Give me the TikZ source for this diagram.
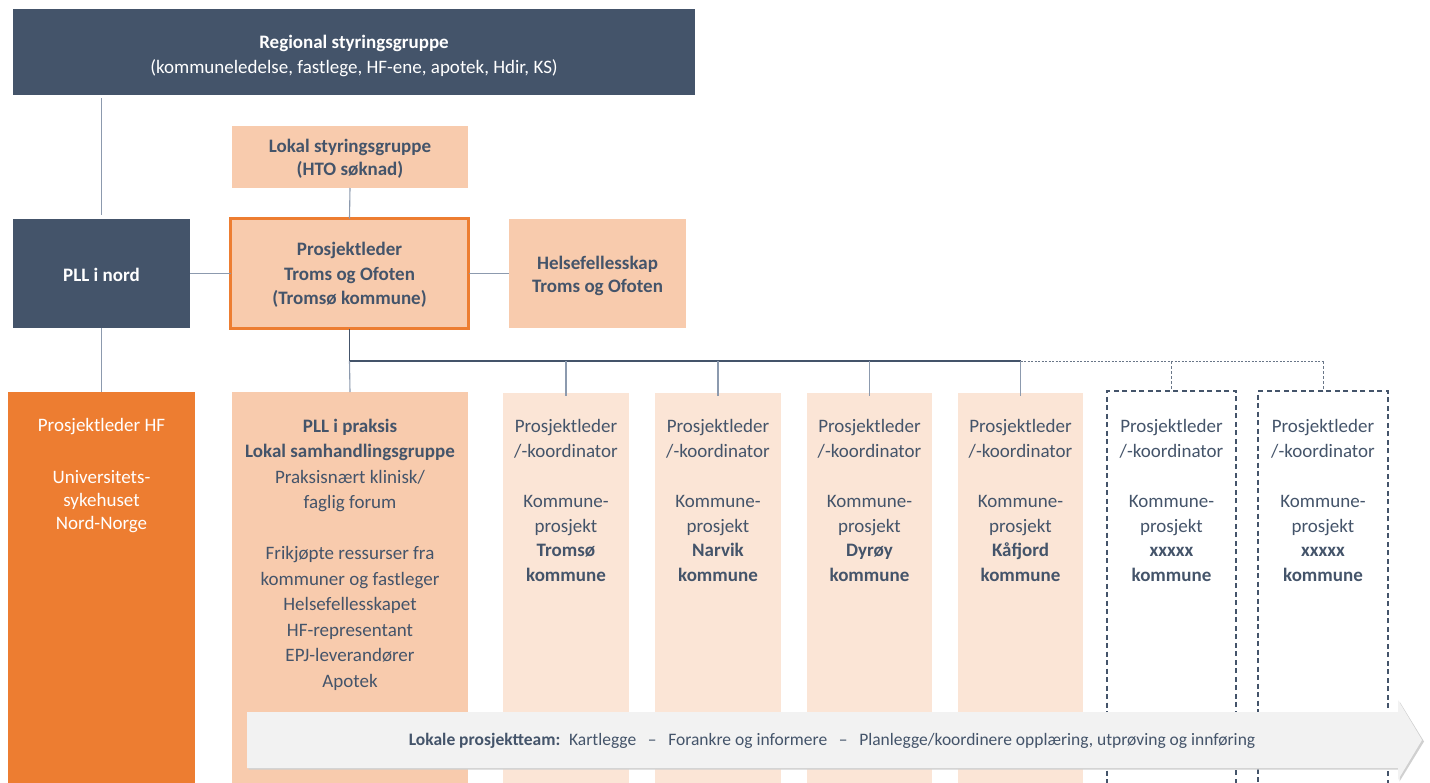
\documentclass[tikz,border=0pt]{standalone}
\usepackage{fontspec}
\setmainfont{Carlito}
\definecolor{slate}{HTML}{44546A}
\definecolor{peach}{HTML}{F8CBAD}
\definecolor{lpeach}{HTML}{FBE5D6}
\definecolor{orng}{HTML}{ED7D31}
\definecolor{conn}{HTML}{8C9AAE}
\definecolor{arrowfill}{HTML}{F2F2F2}
\definecolor{arrowshade}{HTML}{D0D0D0}
\tikzset{
  boxbase/.style={rectangle, inner sep=0pt, outer sep=0pt},
  darkbox/.style={boxbase, fill=slate},
  peachbox/.style={boxbase, fill=peach},
  lpeachbox/.style={boxbase, fill=lpeach},
  orangebox/.style={boxbase, fill=orng},
  dashbox/.style={boxbase, draw=slate, line width=1.4pt, dash pattern=on 5pt off 3.5pt},
  conline/.style={draw=conn, line width=1.1pt},
  busline/.style={draw=slate, line width=1.2pt},
  dotline/.style={draw=slate!80, line width=0.9pt, dash pattern=on 2pt off 1.5pt},
  dropdash/.style={draw=slate!80, line width=0.9pt, dash pattern=on 3pt off 2pt},
  txt/.style={inner sep=0pt, align=center, text=slate, font=\fontsize{19}{24.5}\selectfont},
  wtxt/.style={txt, text=white},
}
\begin{document}
\begin{tikzpicture}[x=1pt,y=-1pt]
\useasboundingbox (0,0) rectangle (1430,782);
\clip (0,0) rectangle (1430,782);

% top rows
\node[darkbox, minimum width=682pt, minimum height=86pt] (reg) at (354,52) {};
\node[peachbox, minimum width=236pt, minimum height=62pt] (lsg) at (350,157) {};
\node[darkbox, minimum width=177pt, minimum height=109pt] (pllnord) at (101.5,273.5) {};
\node[peachbox, draw=orng, line width=3pt, minimum width=238pt, minimum height=110pt] (pl) at (349.5,273.5) {};
\node[peachbox, minimum width=177pt, minimum height=109pt] (hf) at (597.5,273.5) {};

% bottom columns
\node[orangebox, minimum width=187pt, minimum height=408pt] (phf) at (101.5,596) {};
\node[peachbox, minimum width=236pt, minimum height=408pt] (prak) at (350,596) {};
\node[lpeachbox, minimum width=126pt, minimum height=408pt] (k1) at (566,597) {};
\node[lpeachbox, minimum width=126pt, minimum height=408pt] (k2) at (718,597) {};
\node[lpeachbox, minimum width=125pt, minimum height=408pt] (k3) at (869.5,597) {};
\node[lpeachbox, minimum width=125pt, minimum height=408pt] (k4) at (1020.5,597) {};
\node[dashbox, minimum width=129pt, minimum height=408pt] (d1) at (1171.5,595) {};
\node[dashbox, minimum width=130pt, minimum height=408pt] (d2) at (1323,595) {};

% connectors
\draw[conline, shorten <=3pt, shorten >=4pt] (pllnord.north |- reg.south) -- (pllnord.north);
\draw[conline] (pllnord.south) -- (phf.north);
\draw[conline] (pllnord.east) -- (pl.west);
\draw[conline] (pl.east) -- (hf.west);
\draw[conline] (lsg.south) -- (pl.north);
\coordinate (bus) at (349.5,361);
\draw[busline] (pl.south) -- (bus);
\draw[conline] (bus) -- (prak.north);
\draw[busline] (bus) -- (bus -| k4.north);
\draw[dotline] (bus -| k4.north) -- (bus -| d2.north);
\draw[conline] (bus -| k1.north) -- ([yshift=-3pt]k1.north);
\draw[conline] (bus -| k2.north) -- ([yshift=-3pt]k2.north);
\draw[conline] (bus -| k3.north) -- ([yshift=-3pt]k3.north);
\draw[conline] (bus -| k4.north) -- ([yshift=-3pt]k4.north);
\draw[dropdash] (bus -| d1.north) -- (d1.north);
\draw[dropdash] (bus -| d2.north) -- (d2.north);

% texts top
\node[wtxt, font=\fontsize{19}{25}\selectfont\bfseries, anchor=north] (regT) at (354,34.5) {Regional styringsgruppe};
\node[wtxt, anchor=north] (regS) at (354,59.5) {(kommuneledelse, fastlege, HF-ene, apotek, Hdir, KS)};
\node[txt, font=\fontsize{19}{23}\selectfont\bfseries, yshift=-2pt] (lsgT) at (lsg) {Lokal styringsgruppe\\(HTO søknad)};
\node[wtxt, font=\fontsize{19}{24}\selectfont\bfseries, yshift=-1pt] (pllnordT) at (pllnord) {PLL i nord};
\node[txt, font=\fontsize{19}{24.5}\selectfont\bfseries, yshift=-1.5pt] (plT) at (pl) {Prosjektleder\\Troms og Ofoten\\(Tromsø kommune)};
\node[txt, font=\fontsize{19}{23}\selectfont\bfseries, yshift=-2.5pt] (hfT) at (hf) {Helsefellesskap\\Troms og Ofoten};

% texts bottom
\node[wtxt, font=\fontsize{19}{23}\selectfont, anchor=north] (phfT) at (101.5,418.5) {Prosjektleder HF\\[29pt]Universitets-\\sykehuset\\Nord-Norge};
\node[txt, font=\fontsize{19}{25.5}\selectfont, anchor=north] (prakT) at (350,418.5) {\textbf{PLL i praksis}\\\textbf{Lokal samhandlingsgruppe}\\Praksisnært klinisk/\\faglig forum\\[25.5pt]Frikjøpte ressurser fra\\kommuner og fastleger\\Helsefellesskapet\\HF-representant\\EPJ-leverandører\\Apotek};
\node[txt, anchor=north] (k1T) at (566,419.5) {Prosjektleder\\/-koordinator\\[26pt]Kommune-\\prosjekt\\\textbf{Tromsø}\\\textbf{kommune}};
\node[txt, anchor=north] (k2T) at (718,419.5) {Prosjektleder\\/-koordinator\\[26pt]Kommune-\\prosjekt\\\textbf{Narvik}\\\textbf{kommune}};
\node[txt, anchor=north] (k3T) at (869.5,419.5) {Prosjektleder\\/-koordinator\\[26pt]Kommune-\\prosjekt\\\textbf{Dyrøy}\\\textbf{kommune}};
\node[txt, anchor=north] (k4T) at (1020.5,419.5) {Prosjektleder\\/-koordinator\\[26pt]Kommune-\\prosjekt\\\textbf{Kåfjord}\\\textbf{kommune}};
\node[txt, anchor=north] (d1T) at (1171.5,419.5) {Prosjektleder\\/-koordinator\\[26pt]Kommune-\\prosjekt\\\textbf{xxxxx}\\\textbf{kommune}};
\node[txt, anchor=north] (d2T) at (1323,419.5) {Prosjektleder\\/-koordinator\\[26pt]Kommune-\\prosjekt\\\textbf{xxxxx}\\\textbf{kommune}};

% process arrow
\fill[arrowshade] (248.5,713.5) -- (1399.5,713.5) -- (1399.5,701.5) -- (1424,741.5) -- (1399.5,781.5) -- (1399.5,769.5) -- (248.5,769.5) -- cycle;
\fill[arrowfill] (247,712) -- (1398,712) -- (1398,700) -- (1422,740) -- (1398,780) -- (1398,768) -- (247,768) -- cycle;
\node[txt, font=\fontsize{17.5}{20}\selectfont] (arrT) at (832,741) {\textbf{Lokale prosjektteam:}\enspace Kartlegge\enspace\,–\enspace\,Forankre og informere\enspace\,–\enspace\,Planlegge/koordinere opplæring, utprøving og innføring};
\end{tikzpicture}
\end{document}
